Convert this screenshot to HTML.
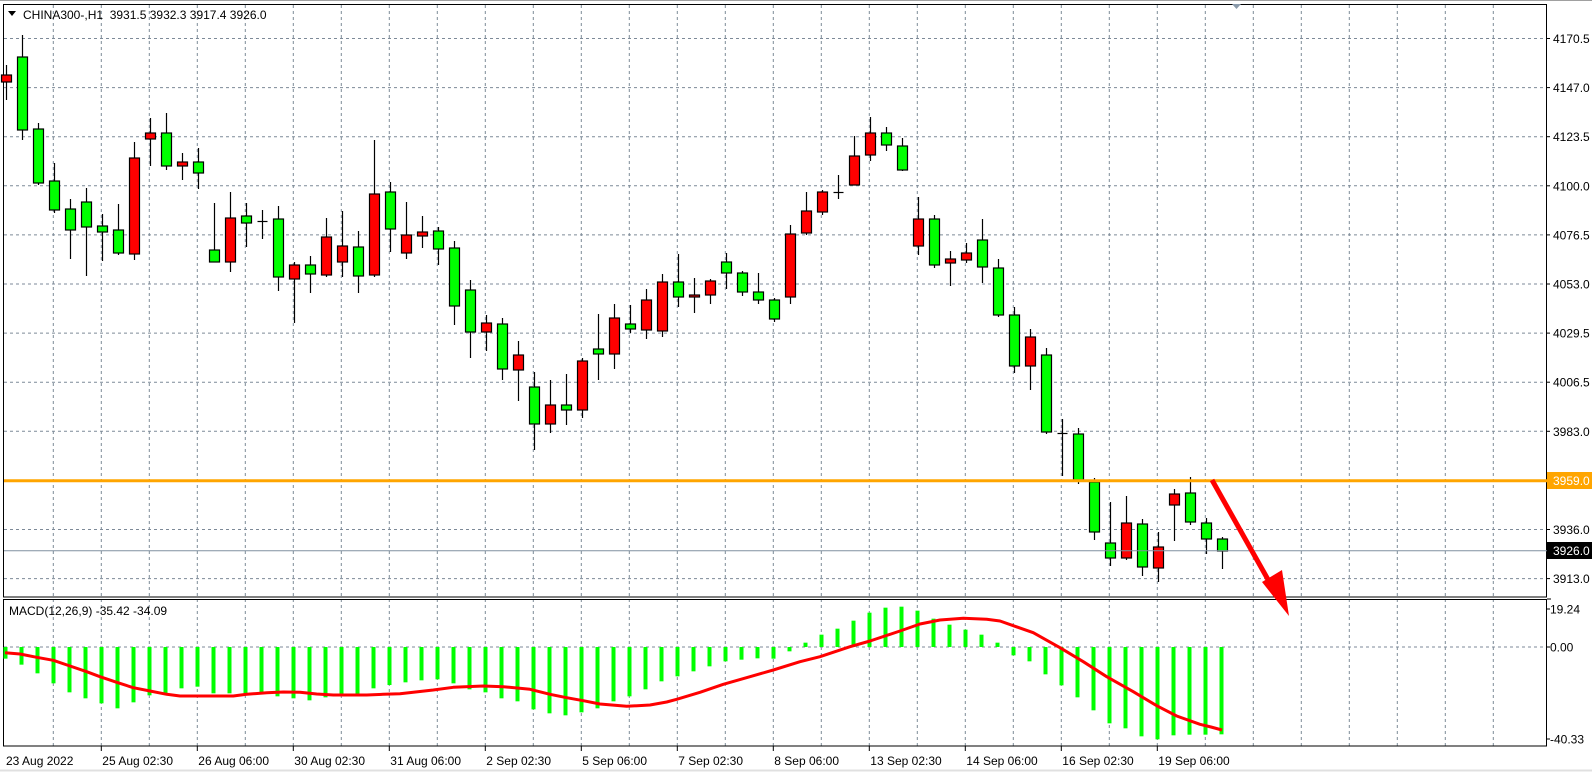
<!DOCTYPE html>
<html><head><meta charset="utf-8">
<style>
html,body{margin:0;padding:0;background:#fff;}
svg{display:block;font-family:"Liberation Sans",sans-serif;}
</style></head>
<body>
<svg id="c" width="1592" height="772" xmlns="http://www.w3.org/2000/svg">
<rect x="0" y="0" width="1592" height="772" fill="#fff"/>
<line x1="0" y1="0.5" x2="1592" y2="0.5" stroke="#a0a0a0" stroke-width="1"/>
<line x1="0" y1="770.5" x2="1592" y2="770.5" stroke="#e0e0e0" stroke-width="2"/>
<g id="grid"></g>
<g id="macd"></g>
<g id="candles"></g>
<g id="over"></g>
<text x="23" y="19" font-size="12" fill="#000">CHINA300-,H1&#160;&#160;3931.5 3932.3 3917.4 3926.0</text>
<polygon points="8,11 16,11 12,16" fill="#000"/>
<polygon points="1232,4 1241,4 1236.5,9" fill="#8a9aaa"/>
<text x="9" y="615" font-size="12" fill="#000">MACD(12,26,9) -35.42 -34.09</text>
</svg>
<script>
var NS="http://www.w3.org/2000/svg";
function el(p,t,a,txt){var e=document.createElementNS(NS,t);for(var k in a)e.setAttribute(k,a[k]);if(txt!=null)e.textContent=txt;document.getElementById(p).appendChild(e);return e;}
var GC="#7d8a98";
for(var k=1;k<=31;k++){var x=5.3+48*k;
 el("grid","line",{x1:x,y1:5,x2:x,y2:597,stroke:GC,"stroke-dasharray":"3,3","stroke-width":1});
 el("grid","line",{x1:x,y1:599,x2:x,y2:746,stroke:GC,"stroke-dasharray":"3,3","stroke-width":1});}
var plabels=["4170.5","4147.0","4123.5","4100.0","4076.5","4053.0","4029.5","4006.5","3983.0","3959.0","3936.0","3913.0"];
for(var k=0;k<12;k++){var y=38.5+49.1*k;
 el("grid","line",{x1:4,y1:y,x2:1546,y2:y,stroke:GC,"stroke-dasharray":"3,3","stroke-width":1});
 el("grid","line",{x1:1546,y1:y,x2:1550,y2:y,stroke:"#000","stroke-width":1});
 if(k!=9) el("grid","text",{x:1553,y:y+4.5,"font-size":"12",fill:"#000"},plabels[k]);}
el("grid","line",{x1:4,y1:647,x2:1547,y2:647,stroke:GC,"stroke-dasharray":"3,3","stroke-width":1});
el("grid","rect",{x:3.5,y:4.5,width:1543,height:592.5,fill:"none",stroke:"#000","stroke-width":1});
el("grid","rect",{x:3.5,y:599.5,width:1543,height:146.5,fill:"none",stroke:"#000","stroke-width":1});
el("grid","line",{x1:1547,y1:599,x2:1551,y2:599,stroke:"#000"});
[["19.24",609],["0.00",647],["-40.33",739]].forEach(function(a){el("grid","text",{x:1550,y:a[1]+4.5,"font-size":"12",fill:"#000"},a[0]);
 el("grid","line",{x1:1547,y1:a[1],x2:1550,y2:a[1],stroke:"#000"});});
var xl=["23 Aug 2022","25 Aug 02:30","26 Aug 06:00","30 Aug 02:30","31 Aug 06:00","2 Sep 02:30","5 Sep 06:00","7 Sep 02:30","8 Sep 06:00","13 Sep 02:30","14 Sep 06:00","16 Sep 02:30","19 Sep 06:00"];
for(var i=0;i<xl.length;i++){var x=i==0?5:5.3+96*i;
 if(i>0)el("grid","line",{x1:x,y1:746,x2:x,y2:751,stroke:"#000"});
 el("grid","text",{x:x+1,y:765,"font-size":"12",fill:"#000"},xl[i]);}
var C=[["r",65,100,75,82],["g",35,140,57,130],["g",123,185,129,183],["g",163,213,181,210],["g",199,259,209,230],["g",188,276,202,227],["g",214,261,226,232],["g",204,255,230,253],["r",142,260,158,254],["r",118,166,133,139],["g",113,170,133,166],["r",153,180,162,166],["g",148,189,162,173],["g",203,262,250,262],["r",192,272,218,262],["g",203,247,216,223],["x",210,239,221,221],["g",206,291,219,277],["r",262,323,265,279],["g",256,293,265,274],["r",218,277,237,275],["r",211,277,246,262],["g",231,293,247,276],["r",140,277,194,275],["g",182,252,192,229],["r",202,259,235,253],["r",216,248,232,236],["g",227,265,231,249],["g",241,325,248,306],["g",280,358,290,332],["r",315,351,323,332],["g",318,380,324,369],["r",341,401,355,370],["g",372,450,387,424],["r",380,433,405,424],["g",374,425,405,410],["r",358,418,361,410],["g",314,380,349,354],["r",304,369,318,354],["g",305,333,324,329],["r",289,339,300,330],["r",274,337,282,331],["g",254,307,282,297],["r",278,313,295,297],["r",279,304,281,295],["g",253,289,262,273],["g",271,296,273,292],["g",273,304,292,300],["g",298,322,300,319],["r",225,304,234,297],["r",192,235,211,233],["r",190,215,192,212],["x",175,199,192,192],["r",136,185,156,185],["r",117,161,133,155],["g",127,151,133,145],["g",138,171,146,170],["r",197,255,219,246],["g",215,268,219,265],["r",251,286,259,263],["r",243,263,253,260],["g",219,283,240,267],["g",259,317,268,315],["g",307,373,315,366],["r",329,390,337,366],["g",348,434,355,432],["x",419,476,433,435],["g",428,484,434,480],["g",478,540,482,532],["g",502,566,543,558],["r",496,560,523,558],["g",519,576,524,567],["r",532,582,547,568],["r",489,541,494,505],["g",477,525,493,522],["g",518,554,523,539],["g",537,569,539,551]];
for(var i=0;i<C.length;i++){var c=C[i],x=Math.round(5.5+16*i)+0.5;
 el("candles","line",{x1:x,y1:c[1],x2:x,y2:c[2],stroke:"#000","stroke-width":1.2});
 if(c[0]=="x"||c[4]-c[3]<1){el("candles","line",{x1:x-5,y1:c[3]+0.5,x2:x+5,y2:c[3]+0.5,stroke:"#000","stroke-width":1.2});}
 else el("candles","rect",{x:x-5,y:c[3],width:10,height:c[4]-c[3],fill:c[0]=="g"?"#00ff00":"#ff0000",stroke:"#000","stroke-width":1.2});}
var H=[237,255,281,311,338,356,371,386,368,347,340,326,321,341,341,341,341,350,356,362,353,345,344,326,316,308,302,299,311,329,338,356,365,389,401,407,398,386,365,350,329,305,290,275,260,245,240,236,237,215,189,165,147,123,99,84,81,93,117,135,150,165,189,227,245,284,317,353,392,431,446,470,479,467,465,465,464];
for(var i=0;i<H.length;i++){var x=5.5+16*i,d=(H[i]-202)/3;
 var y0=Math.min(647,647+d),h=Math.abs(d);
 el("macd","rect",{x:x-2,y:y0,width:4,height:Math.max(h,1),fill:"#00ff00"});}
var S=[[5,652.7],[20,654],[36.7,657.3],[53.3,660.3],[70,666],[86.7,671.7],[100,676.7],[116.7,682.3],[133.3,687.7],[150,691],[166.7,694.3],[180,696],[200,696],[233.3,696],[246.7,694.3],[266.7,692.7],[283.3,692],[300,692.3],[316.7,694],[333.3,695],[366.7,695],[383.3,694.3],[400,693.7],[433.3,690],[453.3,687.3],[483.3,686],[503.3,686.7],[530,689.3],[550,694.3],[566.7,697.7],[583.3,700.7],[600,704],[626.7,706.3],[650,705],[666.7,702],[676.7,699.3],[700,692.3],[723.3,684.3],[750,676.7],[773.3,670],[800,661.7],[820,656.7],[850,646.7],[870,641],[900,631],[920,624],[940,620],[963.3,618.3],[986.7,619.3],[1000,621],[1033.3,632.7],[1060,647.7],[1083.3,661.7],[1106.7,676.7],[1133.3,691.7],[1156.7,705.7],[1176.7,716],[1200,724.3],[1211,727],[1222,730]];
el("macd","polyline",{points:S.map(function(p){return p.join(",")}).join(" "),fill:"none",stroke:"#ff0000","stroke-width":3,"stroke-linejoin":"round"});
el("over","line",{x1:4,y1:480.7,x2:1547,y2:480.7,stroke:"#ffa500","stroke-width":3});
el("over","rect",{x:1547,y:472,width:45,height:17,fill:"#ffa500"});
el("over","text",{x:1553,y:485,"font-size":"12",fill:"#fff"},"3959.0");
el("over","line",{x1:4,y1:550.7,x2:1547,y2:550.7,stroke:"#8090a0","stroke-width":1});
el("over","rect",{x:1547,y:542,width:45,height:17,fill:"#000"});
el("over","text",{x:1553,y:555,"font-size":"12",fill:"#fff"},"3926.0");
el("over","line",{x1:1212,y1:480,x2:1275,y2:592,stroke:"#ff0000","stroke-width":5});
el("over","polygon",{points:"1289,616 1262,582 1282,570",fill:"#ff0000"});
</script>
</body></html>
